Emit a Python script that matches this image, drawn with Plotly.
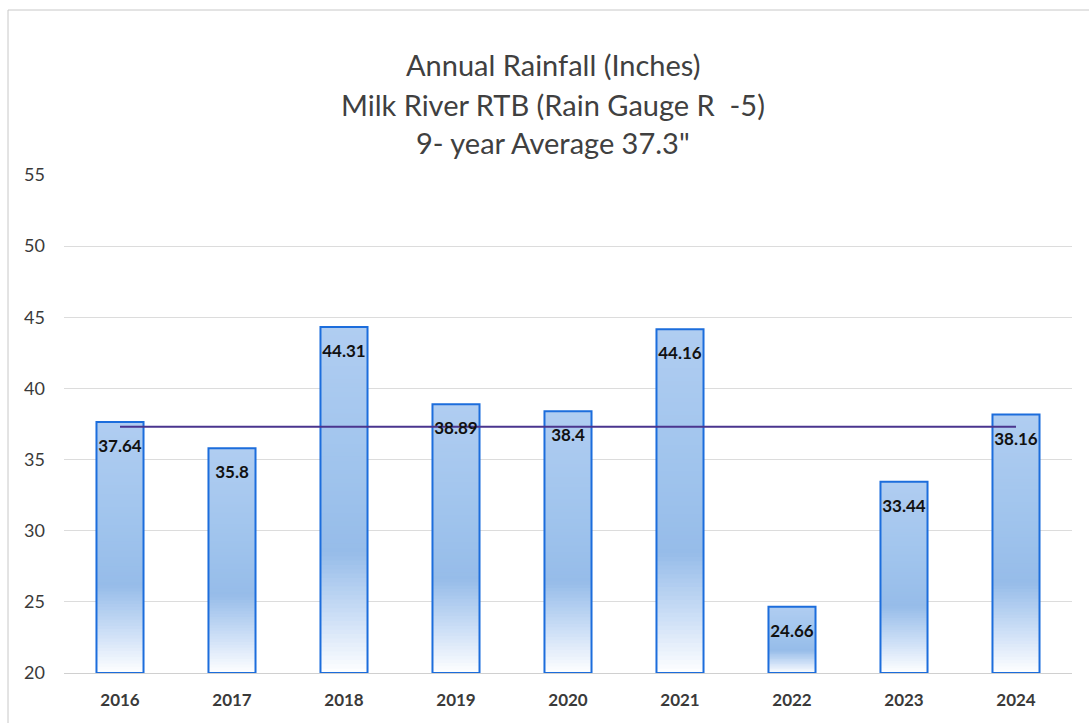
import plotly.graph_objects as go

years = ["2016", "2017", "2018", "2019", "2020", "2021", "2022", "2023", "2024"]
rainfall = [37.64, 35.8, 44.31, 38.89, 38.4, 44.16, 24.66, 33.44, 38.16]
average = 37.3
y_ticks = [20, 25, 30, 35, 40, 45, 50, 55]
title_lines = ["Annual Rainfall (Inches)", "Milk River RTB (Rain Gauge R  -5)", "9- year Average 37.3\""]

BASE = 20
N = 80
FONT = "Lato"

# gradient stops (t = 0 bottom, 1 top)
stops = [(0.0, (255, 255, 255)), (0.15, (208, 225, 247)), (0.35, (150, 188, 233)),
         (0.6, (160, 196, 237)), (1.0, (176, 205, 241))]


def grad(t):
    for (t0, c0), (t1, c1) in zip(stops[:-1], stops[1:]):
        if t0 <= t <= t1:
            f = (t - t0) / (t1 - t0)
            return "rgb(%d,%d,%d)" % tuple(round(a + (b - a) * f) for a, b in zip(c0, c1))
    return "rgb(%d,%d,%d)" % stops[-1][1]


fig = go.Figure()
W = 0.42
for k in range(N):
    t = (k + 0.5) / N
    bases = [BASE + (v - BASE) * k / N for v in rainfall]
    extra = 0.8 if k < N - 1 else 0.0
    heights = [(v - BASE) / N * (1 + extra) for v in rainfall]
    fig.add_trace(go.Bar(
        x=years, y=heights, base=bases, width=W,
        marker=dict(color=grad(t), line=dict(width=0)),
        hoverinfo="skip", showlegend=False,
    ))

# outline
fig.add_trace(go.Bar(
    x=years, y=[v - BASE for v in rainfall], base=[BASE] * len(rainfall), width=W,
    marker=dict(color="rgba(0,0,0,0)", line=dict(color="#1c6ddc", width=2)),
    showlegend=False, hoverinfo="skip",
))

# average line
fig.add_trace(go.Scatter(
    x=years, y=[average] * len(years), mode="lines",
    line=dict(color="#4a358e", width=2), showlegend=False,
))

# data labels
fig.add_trace(go.Scatter(
    x=years, y=rainfall, mode="markers+text",
    text=[f"{v:g}" for v in rainfall], textposition="bottom center",
    marker=dict(size=26, opacity=0),
    textfont=dict(family=FONT, size=17, color="#111111", weight="bold"),
    showlegend=False,
))

L, R, T, B = 64, 17, 175, 50
PW, PH = 1089 - L - R, 723 - T - B

def py(p):
    return (723 - B - p) / PH

for line, ypix in zip(title_lines, [65, 104, 142]):
    fig.add_annotation(text=line, xref="paper", yref="paper", x=(553 - L) / PW, y=py(ypix),
                       showarrow=False, xanchor="center", yanchor="middle",
                       font=dict(family=FONT, size=29, color="#404040"))

fig.add_shape(type="rect", xref="paper", yref="paper",
              x0=(8 - L) / PW, x1=(1100 - L) / PW, y0=py(740), y1=py(10),
              line=dict(color="#c8c8c8", width=1), fillcolor="rgba(0,0,0,0)", layer="below")

fig.update_layout(
    width=1089, height=723, barmode="overlay",
    margin=dict(l=L, r=R, t=T, b=B),
    paper_bgcolor="white", plot_bgcolor="white",
    xaxis=dict(type="category", range=[-0.5, len(years) - 0.5], showgrid=False, showline=True,
               linecolor="#d0d0d0", linewidth=1,
               tickfont=dict(family=FONT, size=17, color="#3a3a3a", weight="bold"),
               ticks="", ticklabelstandoff=12),
    yaxis=dict(range=[20, 55], tickvals=y_ticks, showgrid=True, gridcolor="#dcdcdc", gridwidth=1,
               zeroline=False, showline=False,
               tickfont=dict(family=FONT, size=18, color="#3a3a3a"), ticklabelstandoff=18),
)

fig.write_html("out.html")
